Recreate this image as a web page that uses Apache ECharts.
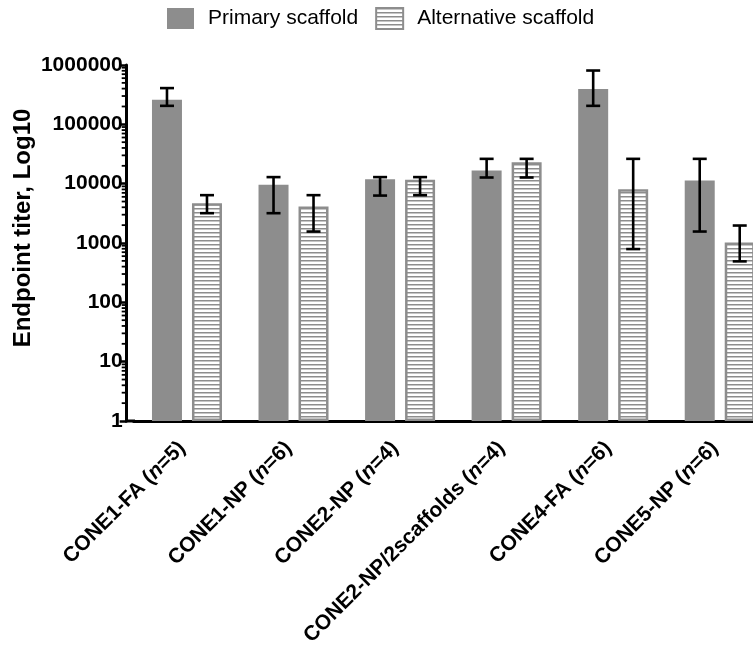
<!DOCTYPE html>
<html>
<head>
<meta charset="utf-8">
<script src="https://cdn.jsdelivr.net/npm/echarts@6/dist/echarts.min.js"></script>
<style>
html,body{margin:0;padding:0;background:#fff;}
#main{width:753px;height:654px;}
</style>
</head>
<body>
<div id="main"></div>
<script>
// ---- data ----
const categories = ['CONE1-FA (n=5)', 'CONE1-NP (n=6)', 'CONE2-NP (n=4)', 'CONE2-NP/2scaffolds (n=4)', 'CONE4-FA (n=6)', 'CONE5-NP (n=6)'];
const seriesNames = ['Primary scaffold', 'Alternative scaffold'];
const yAxisTitle = 'Endpoint titer, Log10';
const primaryValues = [259000, 9550, 11900, 16600, 393000, 11300];
const primaryLow    = [205000, 3180, 6300, 12700, 205000, 1560];
const primaryHigh   = [408000, 12900, 12900, 26200, 807000, 26200];
const altValues     = [4690, 4110, 11600, 23000, 8070, 1020];
const altLow        = [3180, 1560, 6400, 12700, 790, 490];
const altHigh       = [6400, 6400, 12900, 26200, 26200, 1970];
const yTickLabels   = ['1', '10', '100', '1000', '10000', '100000', '1000000'];
const minorTickValues = [2,3,4,5,6,7,8,9, 20,30,40,50,60,70,80,90, 200,300,400,500,600,700,800,900,
  2000,3000,4000,5000,6000,7000,8000,9000, 20000,30000,40000,50000,60000,70000,80000,90000,
  200000,300000,400000,500000,600000,700000,800000,900000];

// ---- style ----
const FONT = '"Liberation Sans", Arial, sans-serif';
const GREY = '#8d8d8d';
const BAR_W = 30, BAR_GAP = 10, Y_OFFSET = 7;

function stripePattern() {
  const c = document.createElement('canvas');
  c.width = 4; c.height = 4;
  const ctx = c.getContext('2d');
  ctx.fillStyle = '#ffffff'; ctx.fillRect(0, 0, 4, 4);
  ctx.fillStyle = GREY; ctx.fillRect(0, 0, 4, 1);
  ctx.fillStyle = '#c6c6c6'; ctx.fillRect(0, 1, 4, 1);
  return c;
}

function errSeries(sign, lows, highs) {
  return {
    type: 'custom',
    silent: true,
    z: 10,
    data: categories.map((c, i) => [i, lows[i], highs[i]]),
    encode: { x: 0, y: [1, 2] },
    renderItem: function (params, api) {
      const i = api.value(0);
      const lo = api.coord([i, api.value(1)]);
      const hi = api.coord([i, api.value(2)]);
      const x = lo[0] + sign * (BAR_W + BAR_GAP) / 2;
      const st = { stroke: '#000', lineWidth: 2.6 };
      return {
        type: 'group',
        children: [
          { type: 'line', shape: { x1: x, y1: lo[1], x2: x, y2: hi[1] }, style: st },
          { type: 'line', shape: { x1: x - 7, y1: lo[1], x2: x + 7, y2: lo[1] }, style: st },
          { type: 'line', shape: { x1: x - 7, y1: hi[1], x2: x + 7, y2: hi[1] }, style: st }
        ]
      };
    }
  };
}

const chart = echarts.init(document.getElementById('main'), null, { renderer: 'canvas' });
const option = {
  animation: false,
  backgroundColor: '#fff',
  textStyle: { fontFamily: FONT },
  legend: {
    data: seriesNames,
    left: 167, top: 7, padding: 0,
    icon: 'rect',
    itemWidth: 27, itemHeight: 21, itemGap: 17,
    textStyle: { fontSize: 21, color: '#000', fontFamily: FONT, padding: [0, 0, 0, 9] }
  },
  grid: { left: 133.7, right: -20, top: 65, bottom: 233, containLabel: false, outerBoundsMode: 'none' },
  xAxis: {
    type: 'category',
    data: categories,
    axisLine: { lineStyle: { color: '#000', width: 3 } },
    axisTick: { alignWithLabel: true, length: 8, lineStyle: { color: '#000', width: 3 } },
    axisLabel: {
      rotate: 45, margin: 19, interval: 0, color: '#000',
      padding: [0, 7, 0, 0],
      formatter: function (v) {
        const m = v.match(/^(.*\()n(=.*)$/);
        return m ? '{b|' + m[1] + '}{i|n}{b|' + m[2] + '}' : v;
      },
      rich: {
        b: { fontSize: 21, fontWeight: 'bold', fontFamily: FONT, color: '#000' },
        i: { fontSize: 21, fontWeight: 'bold', fontStyle: 'italic', fontFamily: FONT, color: '#000' }
      }
    },
    splitLine: { show: false }
  },
  yAxis: {
    type: 'log', logBase: 10, min: 1, max: 1000000,
    offset: Y_OFFSET,
    axisLine: { show: true, lineStyle: { color: '#000', width: 3 } },
    axisTick: { show: true, length: 7, lineStyle: { color: '#000', width: 2.5 } },
    axisLabel: {
      margin: 4, fontSize: 21, fontWeight: 'bold', color: '#000', fontFamily: FONT,
      formatter: function (v) {
        const s = String(Math.round(v));
        return yTickLabels.indexOf(s) >= 0 ? s : '';
      }
    },
    splitLine: { show: false },
    minorTick: { show: false }
  },
  series: [
    {
      name: seriesNames[0], type: 'bar',
      data: primaryValues,
      barWidth: BAR_W, barGap: (BAR_GAP / BAR_W * 100) + '%',
      itemStyle: { color: GREY }
    },
    {
      name: seriesNames[1], type: 'bar',
      data: altValues,
      barWidth: BAR_W, barGap: (BAR_GAP / BAR_W * 100) + '%',
      itemStyle: { color: { image: stripePattern(), repeat: 'repeat' }, borderColor: GREY, borderWidth: 2.5 }
    },
    errSeries(-1, primaryLow, primaryHigh),
    errSeries(1, altLow, altHigh),
    {
      type: 'custom',
      silent: true,
      z: 5,
      data: minorTickValues.map(v => [0, v]),
      encode: { x: 0, y: 1 },
      renderItem: function (params, api) {
        const c = api.coord([0, api.value(1)]);
        const band = api.size([1, 0])[0];
        const x0 = c[0] - band / 2 - Y_OFFSET;
        return { type: 'line', shape: { x1: x0 - 5, y1: c[1], x2: x0, y2: c[1] }, style: { stroke: '#000', lineWidth: 1.8 } };
      }
    }
  ],
  graphic: [
    { type: 'rect', left: 125, top: 419.5, shape: { width: 10, height: 3 }, style: { fill: '#000' }, z: 100 },
    {
      type: 'text', x: 23, y: 228, rotation: Math.PI / 2,
      style: { text: yAxisTitle, font: 'bold 24px ' + FONT, fill: '#000', textAlign: 'center', textVerticalAlign: 'middle' }
    }
  ]
};
chart.setOption(option);
</script>
</body>
</html>
